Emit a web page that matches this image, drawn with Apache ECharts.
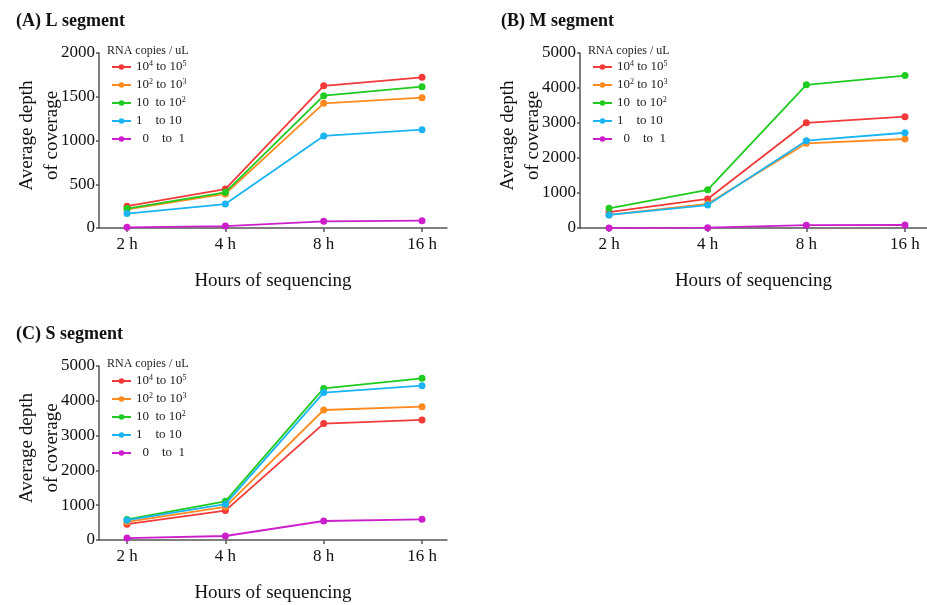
<!DOCTYPE html>
<html>
<head>
<meta charset="utf-8">
<script src="https://cdn.jsdelivr.net/npm/echarts@6/dist/echarts.min.js"></script>
<style>
html,body{margin:0;padding:0;background:#fff;}
#chart{width:927px;height:605px;}
</style>
</head>
<body>
<div id="chart"></div>
<script>
// ---- data ----
var hourLabels = ['2 h', '4 h', '8 h', '16 h'];
var seriesNames = ['10^4 to 10^5', '10^2 to 10^3', '10 to 10^2', '1 to 10', '0 to 1'];
var seriesColors = ['#f23a3a', '#ff8a1f', '#1fcb1f', '#1ab4f2', '#cc1fcc'];

// (A) L segment
var L_r = [250, 445, 1625, 1722];
var L_o = [212, 390, 1425, 1489];
var L_g = [222, 408, 1512, 1615];
var L_b = [165, 274, 1052, 1124];
var L_m = [8, 22, 76, 84];

// (B) M segment
var M_r = [455, 830, 3005, 3180];
var M_o = [372, 690, 2420, 2543];
var M_g = [563, 1090, 4090, 4355];
var M_b = [375, 655, 2495, 2722];
var M_m = [2, 10, 82, 86];

// (C) S segment
var S_r = [455, 845, 3345, 3449];
var S_o = [520, 950, 3736, 3831];
var S_g = [590, 1110, 4355, 4645];
var S_b = [570, 1030, 4235, 4435];
var S_m = [55, 115, 546, 594];

// ---- build ----
var FONT = 'Liberation Serif';
var panels = [
  {title: '(A) L segment', data: [L_r, L_o, L_g, L_b, L_m], ymax: 2000, yint: 500,
   grid: {left: 99, top: 53, width: 348, height: 175}, xmin: -0.285, xmax: 3.254,
   titlePos: {left: 16, top: 12}, legTitle: {left: 107, top: 45}, legend: {left: 111, top: 60}},
  {title: '(B) M segment', data: [M_r, M_o, M_g, M_b, M_m], ymax: 5000, yint: 1000,
   grid: {left: 580, top: 53, width: 347, height: 175}, xmin: -0.294, xmax: 3.223,
   titlePos: {left: 501, top: 12}, legTitle: {left: 588, top: 45}, legend: {left: 592, top: 60}},
  {title: '(C) S segment', data: [S_r, S_o, S_g, S_b, S_m], ymax: 5000, yint: 1000,
   grid: {left: 99, top: 366, width: 348, height: 174}, xmin: -0.285, xmax: 3.254,
   titlePos: {left: 16, top: 325}, legTitle: {left: 107, top: 358}, legend: {left: 111, top: 374}}
];

function legendFmt(name) {
  var map = {
    '10^4 to 10^5': '10{sup|4} to 10{sup|5}',
    '10^2 to 10^3': '10{sup|2} to 10{sup|3}',
    '10 to 10^2': '10  to 10{sup|2}',
    '1 to 10': '1    to 10',
    '0 to 1': '  0    to  1'
  };
  return map[name];
}

var option = {
  animation: false,
  backgroundColor: '#ffffff',
  title: [], legend: [], grid: [], xAxis: [], yAxis: [], series: []
};

var axisColor = '#555555';
panels.forEach(function (p, k) {
  option.title.push({text: p.title, left: p.titlePos.left, top: p.titlePos.top, padding: 0,
    textStyle: {fontFamily: FONT, fontSize: 18, fontWeight: 'bold', color: '#111'}});
  option.title.push({text: 'RNA copies / uL', left: p.legTitle.left, top: p.legTitle.top, padding: 0,
    textStyle: {fontFamily: FONT, fontSize: 12, fontWeight: 'normal', color: '#222'}});
  option.legend.push({
    data: seriesNames, orient: 'vertical', left: p.legend.left, top: p.legend.top,
    itemWidth: 19, itemHeight: 7, itemGap: 4, padding: 0,
    formatter: legendFmt,
    textStyle: {fontFamily: FONT, fontSize: 13, color: '#222', lineHeight: 14,
      rich: {sup: {fontFamily: FONT, fontSize: 8, lineHeight: 7, verticalAlign: 'top', color: '#222'}}}
  });
  option.grid.push({left: p.grid.left, top: p.grid.top, width: p.grid.width, height: p.grid.height, containLabel: false});
  option.xAxis.push({
    gridIndex: k, type: 'value', min: p.xmin, max: p.xmax,
    name: 'Hours of sequencing', nameLocation: 'middle', nameGap: 44, nameMoveOverlap: false,
    nameTextStyle: {fontFamily: FONT, fontSize: 19, color: '#111'},
    axisLine: {show: true, onZero: false, lineStyle: {color: axisColor, width: 1.5}},
    axisTick: {show: true, length: 4, lineStyle: {color: axisColor, width: 1.5}, customValues: [0, 1, 2, 3]},
    axisLabel: {fontFamily: FONT, fontSize: 17, color: '#111', margin: 8, customValues: [0, 1, 2, 3],
      formatter: function (v) { return hourLabels[Math.round(v)]; }},
    splitLine: {show: false}
  });
  option.yAxis.push({
    gridIndex: k, type: 'value', min: 0, max: p.ymax, interval: p.yint,
    name: 'Average depth\nof coverage', nameLocation: 'middle', nameGap: 34, nameRotate: 90, nameMoveOverlap: false,
    nameTextStyle: {fontFamily: FONT, fontSize: 19, color: '#111', lineHeight: 25, padding: [0, 0, 0, 10]},
    axisLine: {show: true, onZero: false, lineStyle: {color: axisColor, width: 1.5}},
    axisTick: {show: true, length: 3, lineStyle: {color: axisColor, width: 1.5}},
    axisLabel: {fontFamily: FONT, fontSize: 17, color: '#111', margin: 4,
      formatter: function (v) { return String(v); }},
    splitLine: {show: false}
  });
  var order = [4, 3, 1, 2, 0];
  order.forEach(function (s) {
    option.series.push({
      type: 'line', name: seriesNames[s], xAxisIndex: k, yAxisIndex: k,
      data: p.data[s].map(function (v, i) { return [i, v]; }),
      symbol: 'circle', symbolSize: 7,
      lineStyle: {width: 1.8, color: seriesColors[s]},
      itemStyle: {color: seriesColors[s]},
      z: 2 + s
    });
  });
});

var chart = echarts.init(document.getElementById('chart'), null, {renderer: 'canvas'});
chart.setOption(option);
</script>
</body>
</html>
